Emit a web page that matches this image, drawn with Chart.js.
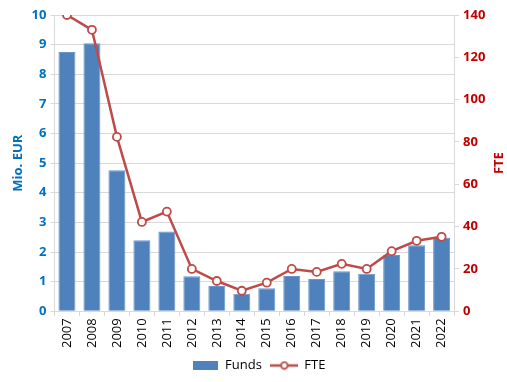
<!DOCTYPE html>
<html><head><meta charset="utf-8">
<script src="https://cdn.jsdelivr.net/npm/chart.js@4/dist/chart.umd.min.js"></script>
<style>html,body{margin:0;padding:0;background:#fff}#wrap{width:507px;height:382px}</style>
</head><body><div id="wrap"><canvas id="c" width="507" height="382"></canvas></div>
<script>
const years = ['2007','2008','2009','2010','2011','2012','2013','2014','2015','2016','2017','2018','2019','2020','2021','2022'];
const funds = [8.75,9.05,4.76,2.40,2.69,1.18,0.85,0.59,0.78,1.19,1.09,1.35,1.27,1.90,2.23,2.48];
const fte = [140,133,82.4,42.2,47.1,20,14.3,9.7,13.5,20,18.6,22.4,20,28.4,33.3,35.2];

const BLUE = '#4F81BD', RED = '#BE4B48', GRID = '#D9D9D9';
const FONT = "'Open Sans', 'Liberation Sans', sans-serif";

function mk(w,h,draw){const c=document.createElement('canvas');c.width=w;c.height=h;draw(c.getContext('2d'));return c;}
const fundsIcon = mk(25,9,g=>{g.fillStyle=BLUE;g.fillRect(0,0,25,9);});
const fteIcon = mk(28,10,g=>{g.strokeStyle=RED;g.lineWidth=2.5;g.beginPath();g.moveTo(0,5);g.lineTo(28,5);g.stroke();
  g.fillStyle='#fff';g.beginPath();g.arc(14,5,3.3,0,Math.PI*2);g.fill();g.lineWidth=1.8;g.stroke();});

const rightTitle = {
  id:'rightTitle',
  afterDraw(chart){
    const s = chart.scales.y1, g = chart.ctx;
    g.save();
    g.font = "bold 13px " + FONT;
    g.fillStyle = '#C00000';
    g.textAlign = 'center'; g.textBaseline = 'middle';
    g.translate(s.right - 8, (chart.chartArea.top + chart.chartArea.bottom)/2);
    g.rotate(-Math.PI/2);
    g.fillText('FTE', 0, 0);
    g.restore();
  }
};

new Chart(document.getElementById('c'), {
  data: {
    labels: years,
    datasets: [
      {type:'line', label:'FTE', data: fte, yAxisID:'y1', borderColor:RED, borderWidth:2.5,
       pointRadius:4, pointBackgroundColor:'#fff', pointBorderColor:RED, pointBorderWidth:1.8, tension:0, order:0},
      {type:'bar', label:'Funds', data: funds, yAxisID:'y', backgroundColor:BLUE, borderColor:'#6A95CA', borderWidth:1,
       barPercentage:0.68, categoryPercentage:1.0, order:1}
    ]
  },
  options: {
    responsive:false, animation:false,
    layout:{padding:{top:15,left:10,right:0,bottom:0}},
    plugins:{
      tooltip:{enabled:false},
      legend:{position:'bottom',
        labels:{usePointStyle:true, pointStyleWidth:27, font:{family:FONT,size:13}, color:'#000', padding:9,
          generateLabels(chart){
            return [
              {text:'Funds', pointStyle:fundsIcon, fillStyle:BLUE, strokeStyle:BLUE, lineWidth:0, datasetIndex:1, fontColor:'#000'},
              {text:'FTE', pointStyle:fteIcon, fillStyle:RED, strokeStyle:RED, lineWidth:0, datasetIndex:0, fontColor:'#000'}
            ];
          }}}
    },
    scales:{
      x:{offset:true,
        grid:{drawOnChartArea:false, drawTicks:true, tickLength:5, color:GRID, offset:true},
        border:{color:GRID},
        ticks:{color:'#000', font:{family:FONT,size:13}, maxRotation:90, minRotation:90, padding:2}},
      y:{position:'left', min:0, max:10,
        ticks:{stepSize:1, color:'#0070C0', font:{family:FONT,size:13,weight:'bold'}, padding:4},
        grid:{color:GRID, tickLength:4},
        border:{color:GRID},
        title:{display:true, text:'Mio. EUR', color:'#0070C0', font:{family:FONT,size:13,weight:'bold'}, padding:{top:0,bottom:2}}},
      y1:{position:'right', min:0, max:140,
        ticks:{stepSize:20, color:'#C00000', font:{family:FONT,size:13,weight:'bold'}, padding:4},
        grid:{drawOnChartArea:false, color:GRID, tickLength:5},
        border:{color:GRID},
        title:{display:true, text:'FTE', color:'rgba(0,0,0,0)', font:{family:FONT,size:13,weight:'bold'}, padding:{top:2,bottom:0}}}
    }
  },
  plugins:[rightTitle]
});
</script></body></html>
